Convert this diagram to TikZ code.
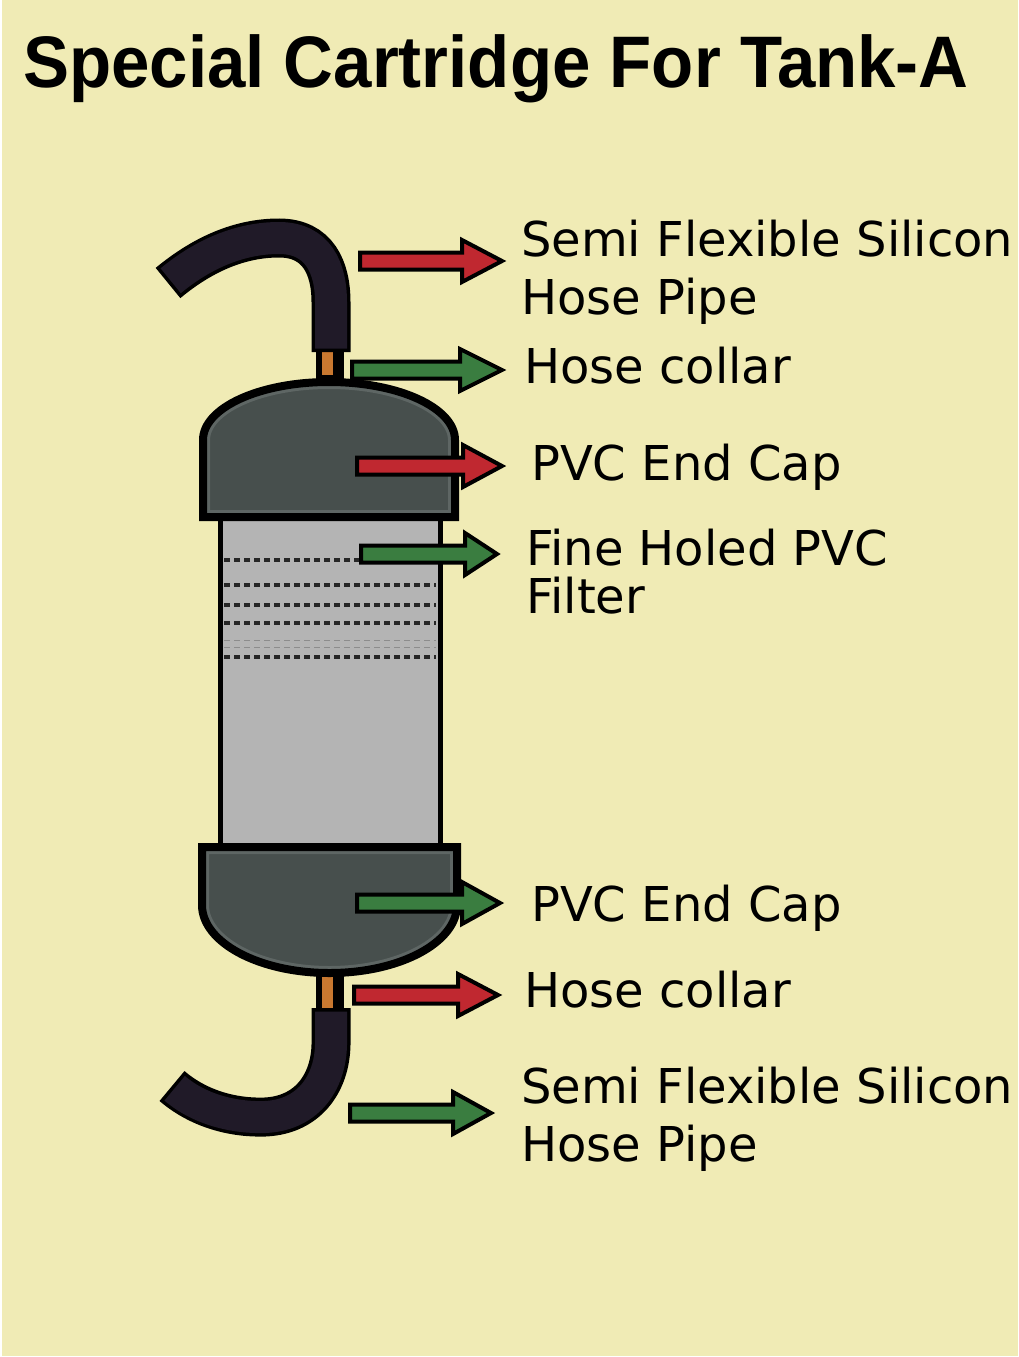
\documentclass[tikz,border=0pt]{standalone}
\usepackage{fontspec}
\setmainfont{DejaVu Sans}
\newfontfamily\titlefont{Liberation Sans}
\definecolor{bgyellow}{RGB}{240,235,181}
\definecolor{capgray}{RGB}{71,79,77}
\definecolor{caplight}{RGB}{94,102,100}
\definecolor{filtergray}{RGB}{180,180,180}
\definecolor{hosecol}{RGB}{32,26,40}
\definecolor{collarorange}{RGB}{200,120,48}
\definecolor{arrred}{RGB}{192,40,48}
\definecolor{arrgreen}{RGB}{58,125,64}
\tikzset{
  arr/.style={draw=black, line width=4pt, line join=miter},
  lbl/.style={inner sep=0pt, anchor=base west, font=\fontsize{48}{58}\selectfont, text=black},
  hoseout/.style={draw=black, line width=39pt},
  hosein/.style={draw=hosecol, line width=32pt, shorten <=3.5pt, shorten >=3.5pt},
  dashline/.style={draw=black!85, line width=3.5pt, dash pattern=on 6pt off 4pt},
  faintline/.style={draw=black!45, line width=1pt, dash pattern=on 6pt off 4pt},
}
\newcommand\blockarrow[5]{%
  \draw[arr, fill=#1] (#2,#5-8.5) -- (#3,#5-8.5) -- (#3,#5-21) -- (#4,#5)
    -- (#3,#5+21) -- (#3,#5+8.5) -- (#2,#5+8.5) -- cycle;}
\begin{document}
\begin{tikzpicture}[x=1pt,y=-1pt]
\useasboundingbox (0,0) rectangle (1018,1357);
\fill[white] (0,0) rectangle (1018,1357);
\fill[bgyellow] (2,0) rectangle (1018,1356);

% title
\node[inner sep=0pt, anchor=base west] (title) at (23,87)
  {\scalebox{0.945}[1]{\titlefont\bfseries\fontsize{73}{80}\selectfont Special Cartridge For Tank-A}};

% filter body
\draw[fill=filtergray, line width=5pt] (220,505) rectangle (440,860);
\foreach \yy in {560,585,605,623,657} \draw[dashline] (224,\yy) -- (436,\yy);
\foreach \yy in {640,647} \draw[faintline] (224,\yy) -- (436,\yy);

% collars
\fill[black] (316,343) rectangle (344,388);
\fill[collarorange] (322,351) rectangle (333,375);
\fill[black] (316,968) rectangle (344,1013);
\fill[collarorange] (322,977) rectangle (333,1008);

% top hose
\draw[hoseout] (168,283) .. controls (203,254) and (240,238) .. (279,238)
  .. controls (318,238) and (331,268) .. (331,302) -- (331,352);
\draw[hosein] (168,283) .. controls (203,254) and (240,238) .. (279,238)
  .. controls (318,238) and (331,268) .. (331,302) -- (331,352);

% bottom hose
\draw[hoseout] (331,1008) -- (331,1040) .. controls (332,1080) and (310,1115) .. (265,1117)
  .. controls (235,1118) and (200,1110) .. (172,1086);
\draw[hosein] (331,1008) -- (331,1040) .. controls (332,1080) and (310,1115) .. (265,1117)
  .. controls (235,1118) and (200,1110) .. (172,1086);

% top cap
\fill[capgray] (203,517) -- (203,440) .. controls (203,408) and (259,382) .. (329,382)
  .. controls (399,382) and (455,408) .. (455,440) -- (455,517) -- cycle;
\begin{scope}
\clip (203,517) -- (203,440) .. controls (203,408) and (259,382) .. (329,382)
  .. controls (399,382) and (455,408) .. (455,440) -- (455,517) -- cycle;
\draw[caplight, line width=14pt] (203,517) -- (203,440) .. controls (203,408) and (259,382) .. (329,382)
  .. controls (399,382) and (455,408) .. (455,440) -- (455,517) -- cycle;
\end{scope}
\draw[black, line width=8pt] (203,517) -- (203,440) .. controls (203,408) and (259,382) .. (329,382)
  .. controls (399,382) and (455,408) .. (455,440) -- (455,517) -- cycle;

% bottom cap
\fill[capgray] (202,847) -- (457,847) -- (457,905) .. controls (457,942.5) and (399.9,973) .. (329.5,973)
  .. controls (259.1,973) and (202,942.5) .. (202,905) -- cycle;
\begin{scope}
\clip (202,847) -- (457,847) -- (457,905) .. controls (457,942.5) and (399.9,973) .. (329.5,973)
  .. controls (259.1,973) and (202,942.5) .. (202,905) -- cycle;
\draw[caplight, line width=14pt] (202,847) -- (457,847) -- (457,905) .. controls (457,942.5) and (399.9,973) .. (329.5,973)
  .. controls (259.1,973) and (202,942.5) .. (202,905) -- cycle;
\end{scope}
\draw[black, line width=8pt] (202,847) -- (457,847) -- (457,905) .. controls (457,942.5) and (399.9,973) .. (329.5,973)
  .. controls (259.1,973) and (202,942.5) .. (202,905) -- cycle;

% arrows
\blockarrow{arrred}{360}{462}{502}{261}
\blockarrow{arrgreen}{352}{460}{502}{370}
\blockarrow{arrred}{357}{463}{502}{466}
\blockarrow{arrgreen}{361}{465}{497}{554}
\blockarrow{arrgreen}{357}{462}{500}{903}
\blockarrow{arrred}{354}{458}{498}{995}
\blockarrow{arrgreen}{350}{453}{491}{1113}

% labels
\node[lbl] (semitop) at (521,256) {Semi Flexible Silicon};
\node[lbl] (pipetop) at (521,314) {Hose Pipe};
\node[lbl] (collartop) at (524,383) {Hose collar};
\node[lbl] (captop) at (531,480) {PVC End Cap};
\node[lbl] (filter1) at (526,565) {Fine Holed PVC};
\node[lbl] (filter2) at (526,613) {Filter};
\node[lbl] (capbot) at (531,921) {PVC End Cap};
\node[lbl] (collarbot) at (524,1007) {Hose collar};
\node[lbl] (semibot) at (521,1103) {Semi Flexible Silicon};
\node[lbl] (pipebot) at (521,1161) {Hose Pipe};
\end{tikzpicture}
\end{document}
